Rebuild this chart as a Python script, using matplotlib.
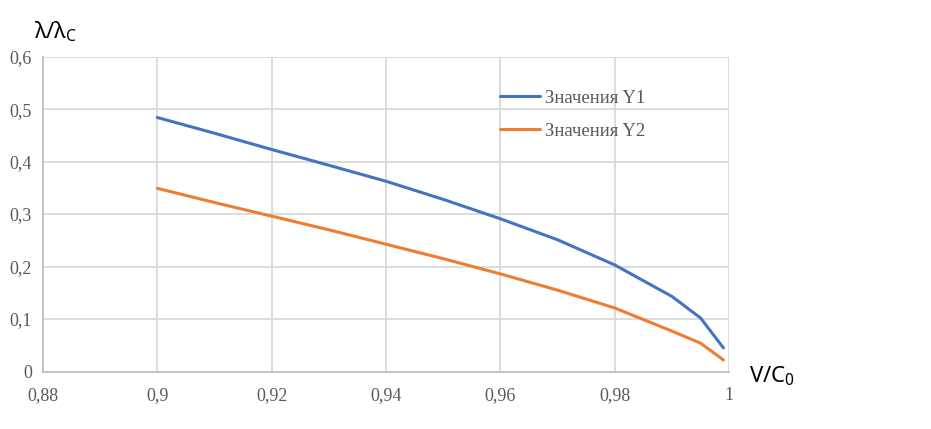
import matplotlib
matplotlib.use('Agg')
import matplotlib.pyplot as plt

# values
x_vals = [0.9, 0.91, 0.92, 0.93, 0.94, 0.95, 0.96, 0.97, 0.98, 0.99, 0.995, 0.999]
y1_vals = [0.484, 0.454, 0.423, 0.393, 0.3625, 0.328, 0.291, 0.251, 0.203, 0.143, 0.102, 0.045]
y2_vals = [0.349, 0.322, 0.296, 0.270, 0.2425, 0.215, 0.186, 0.155, 0.121, 0.077, 0.054, 0.022]

x_ticks = [0.88, 0.9, 0.92, 0.94, 0.96, 0.98, 1.0]
x_tick_labels = ['0,88', '0,9', '0,92', '0,94', '0,96', '0,98', '1']
y_ticks = [0, 0.1, 0.2, 0.3, 0.4, 0.5, 0.6]
y_tick_labels = ['0', '0,1', '0,2', '0,3', '0,4', '0,5', '0,6']
series_names = ['Значения Y1', 'Значения Y2']


def main():
    plt.rcParams['mathtext.fontset'] = 'custom'
    plt.rcParams['mathtext.rm'] = 'Noto Sans'
    plt.rcParams['mathtext.it'] = 'Noto Sans:italic'

    fig = plt.figure(figsize=(9.31, 4.29), dpi=100)
    ax = fig.add_axes([0.0462, 0.134, 0.737, 0.734])

    ax.plot(x_vals, y1_vals, color='#4472C4', lw=2.2, label=series_names[0],
            solid_capstyle='round')
    ax.plot(x_vals, y2_vals, color='#ED7D31', lw=2.2, label=series_names[1],
            solid_capstyle='round')

    ax.set_xlim(0.88, 1.0)
    ax.set_ylim(0, 0.6)
    ax.set_xticks(x_ticks)
    ax.set_xticklabels(x_tick_labels)
    ax.set_yticks(y_ticks)
    ax.set_yticklabels(y_tick_labels)
    for lab in ax.get_xticklabels() + ax.get_yticklabels():
        lab.set_family('Liberation Serif')
        lab.set_fontsize(13)
        lab.set_color('#595959')
    ax.tick_params(axis='x', length=0, pad=11)
    ax.tick_params(axis='y', length=0, pad=8)

    ax.grid(True, color='#d9d9d9', lw=1.3)
    ax.set_axisbelow(True)
    for side in ['top', 'right']:
        ax.spines[side].set_visible(False)
    for side in ['left', 'bottom']:
        ax.spines[side].set_color('#bfbfbf')
        ax.spines[side].set_linewidth(1.3)

    leg = ax.legend(loc='upper left', bbox_to_anchor=(0.6665, 0.895), frameon=False,
                    prop={'family': 'Liberation Serif', 'size': 13.5},
                    handlelength=2.1, handletextpad=0.3, labelspacing=0.85,
                    borderpad=0.0, borderaxespad=0.0)
    for t in leg.get_texts():
        t.set_color('#595959')

    fig.text(0.037, 0.925, r'λ/λ$_{\rm C}$', family='Noto Sans', fontsize=16,
             color='#000000', ha='left', va='center')
    fig.text(0.805, 0.122, r'V/C$_{\rm 0}$', family='Noto Sans', fontsize=16,
             color='#000000', ha='left', va='center')

    fig.savefig('out.png', dpi=100)


if __name__ == '__main__':
    main()
